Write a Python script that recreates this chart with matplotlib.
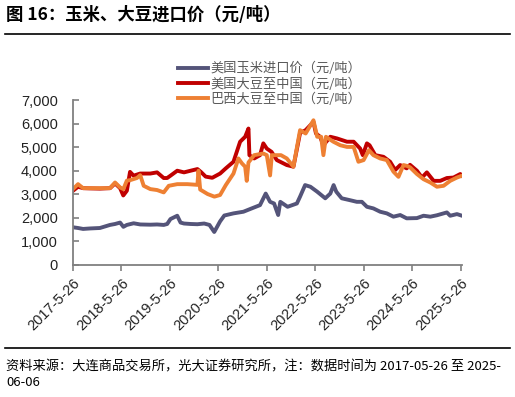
import matplotlib
matplotlib.use("Agg")
import matplotlib.pyplot as plt
import pandas as pd
from matplotlib.lines import Line2D

plt.rcParams['font.family'] = ['Noto Sans CJK SC', 'DejaVu Sans']

title = "图 16：玉米、大豆进口价（元/吨）"
source = "资料来源：大连商品交易所，光大证券研究所，注：数据时间为 2017-05-26 至 2025-\n06-06"
labels = ["美国玉米进口价（元/吨）", "美国大豆至中国（元/吨）", "巴西大豆至中国（元/吨）"]
colors = ["#545479", "#C00000", "#EE8033"]

tick_dates = ["2017-05-26", "2018-05-26", "2019-05-26", "2020-05-26", "2021-05-26",
              "2022-05-26", "2023-05-26", "2024-05-26", "2025-05-26"]
tick_labels = ["2017-5-26", "2018-5-26", "2019-5-26", "2020-5-26", "2021-5-26",
               "2022-5-26", "2023-5-26", "2024-5-26", "2025-5-26"]
y_ticks = [0, 1000, 2000, 3000, 4000, 5000, 6000, 7000]

corn_dates = ["2017-05-26", "2017-07-03", "2017-08-10", "2017-09-30", "2017-12-15", "2018-03-01",
              "2018-04-08", "2018-05-16", "2018-06-10", "2018-07-06", "2018-08-26", "2018-10-15",
              "2018-12-30", "2019-02-19", "2019-04-10", "2019-05-06", "2019-05-31", "2019-07-21",
              "2019-08-15", "2019-09-10", "2019-10-30", "2019-12-20", "2020-02-09", "2020-03-20",
              "2020-04-25", "2020-06-08", "2020-07-10", "2020-09-17", "2020-12-01", "2021-02-01",
              "2021-04-05", "2021-05-18", "2021-06-20", "2021-07-20", "2021-08-20", "2021-09-05",
              "2021-10-30", "2022-01-08", "2022-02-01", "2022-03-11", "2022-04-20", "2022-06-10",
              "2022-08-10", "2022-09-17", "2022-10-12", "2022-11-01", "2022-12-12", "2023-02-12",
              "2023-04-05", "2023-05-13", "2023-06-20", "2023-08-08", "2023-09-28", "2023-11-17",
              "2024-01-06", "2024-02-26", "2024-04-15", "2024-07-01", "2024-08-20", "2024-10-10",
              "2024-11-29", "2025-02-12", "2025-03-09", "2025-04-29", "2025-06-06"]
corn_vals = [1600, 1570, 1530, 1550, 1570, 1700,
             1740, 1800, 1620, 1700, 1770, 1720,
             1710, 1720, 1700, 1740, 1950, 2090,
             1800, 1760, 1740, 1730, 1760, 1700,
             1400, 1850, 2100, 2190, 2260, 2400,
             2540, 3030, 2680, 2610, 2120, 2680,
             2470, 2610, 2900, 3390, 3320, 3110,
             2830, 3030, 3390, 3110, 2830, 2750,
             2680, 2680, 2470, 2400, 2260, 2190,
             2050, 2120, 1980, 1990, 2090, 2050,
             2110, 2230, 2090, 2160, 2090]

us_dates = ["2017-05-26", "2017-07-03", "2017-08-10", "2017-09-30", "2017-12-15", "2018-03-01",
            "2018-04-08", "2018-05-16", "2018-06-09", "2018-07-06", "2018-07-30", "2018-08-26",
            "2018-10-15", "2018-12-30", "2019-02-19", "2019-04-10", "2019-05-06", "2019-05-31",
            "2019-07-21", "2019-09-10", "2019-10-30", "2019-12-20", "2020-01-15", "2020-02-20",
            "2020-04-10", "2020-06-08", "2020-07-21", "2020-09-17", "2020-11-06", "2020-12-14",
            "2021-01-08", "2021-01-15", "2021-02-20", "2021-04-05", "2021-04-30", "2021-05-26",
            "2021-07-01", "2021-08-10", "2021-10-24", "2021-12-13", "2022-02-01", "2022-03-15",
            "2022-05-13", "2022-06-01", "2022-07-02", "2022-07-27", "2022-09-17", "2022-11-06",
            "2023-01-21", "2023-03-12", "2023-04-30", "2023-05-20", "2023-06-20", "2023-07-10",
            "2023-08-22", "2023-10-23", "2023-12-12", "2024-01-19", "2024-02-26", "2024-04-15",
            "2024-05-10", "2024-07-01", "2024-08-08", "2024-09-14", "2024-11-04", "2024-12-24",
            "2025-02-12", "2025-04-03", "2025-05-24", "2025-06-06"]
us_vals = [3150, 3320, 3260, 3250, 3240, 3260,
           3460, 3260, 2950, 3150, 3950, 3790,
           3880, 3880, 3930, 3690, 3690, 3790,
           4000, 3930, 4000, 4070, 3950, 3750,
           3700, 3880, 4100, 4380, 5230, 5440,
           5790, 4660, 4520, 4660, 5160, 4940,
           4800, 4450, 4240, 4170, 5600, 5720,
           6070, 5580, 5440, 5080, 5440, 5370,
           5230, 5230, 4940, 4660, 5160, 5080,
           4660, 4590, 4380, 4030, 4240, 4100,
           4250, 4000, 3710, 3930, 3570, 3570,
           3690, 3710, 3860, 3790]

br_dates = ["2017-05-26", "2017-07-03", "2017-08-10", "2017-09-30", "2017-12-15", "2018-03-01",
            "2018-04-08", "2018-05-16", "2018-06-10", "2018-07-06", "2018-07-31", "2018-09-20",
            "2018-10-15", "2018-11-10", "2018-12-30", "2019-02-19", "2019-04-10", "2019-05-18",
            "2019-07-21", "2019-10-05", "2019-12-20", "2019-12-28", "2020-01-10", "2020-03-06",
            "2020-04-26", "2020-06-08", "2020-07-21", "2020-09-17", "2020-10-24", "2020-11-20",
            "2020-12-14", "2020-12-26", "2021-01-08", "2021-02-20", "2021-04-30", "2021-05-26",
            "2021-06-20", "2021-07-03", "2021-09-10", "2021-10-24", "2021-12-13", "2022-02-01",
            "2022-03-15", "2022-05-13", "2022-06-10", "2022-07-10", "2022-07-27", "2022-08-15",
            "2022-10-10", "2022-12-01", "2023-01-21", "2023-03-12", "2023-04-17", "2023-05-26",
            "2023-07-05", "2023-08-08", "2023-09-28", "2023-11-17", "2024-01-06", "2024-02-13",
            "2024-03-22", "2024-04-20", "2024-05-11", "2024-07-01", "2024-08-20", "2024-10-10",
            "2024-11-29", "2025-01-18", "2025-03-09", "2025-04-29", "2025-06-06"]
br_vals = [3220, 3430, 3260, 3260, 3260, 3260,
           3500, 3290, 3220, 3580, 3600, 3690,
           3810, 3360, 3220, 3180, 3080, 3360,
           3430, 3430, 3400, 4000, 3200, 3010,
           2900, 2970, 3390, 3880, 4520, 4310,
           4170, 3570, 4350, 4660, 4730, 4660,
           3800, 4660, 4660, 4520, 4170, 5720,
           5580, 6140, 5440, 5440, 4660, 5440,
           5230, 5080, 5010, 5010, 4380, 4450,
           4870, 4660, 4520, 4450, 3960, 3740,
           4240, 4200, 4140, 3860, 3640, 3500,
           3320, 3360, 3570, 3710, 3790]

W, H = 515, 397
fig = plt.figure(figsize=(W / 100, H / 100), dpi=100)

ax = fig.add_axes([73 / W, 1 - 265 / H, (462 - 73) / W, (265 - 100) / H])

series = [(corn_dates, corn_vals), (us_dates, us_vals), (br_dates, br_vals)]
handles = []
for (d, v), c, lab in zip(series, colors, labels):
    ln, = ax.plot(pd.to_datetime(d), v, color=c, lw=2.8, solid_joinstyle='round', label=lab)
    handles.append(ln)

ax.set_ylim(0, 7000)
ax.set_xlim(pd.Timestamp("2017-05-26"), pd.Timestamp("2025-06-06"))
ax.set_yticks(y_ticks)
ax.set_yticklabels([f"{v:,}" for v in y_ticks], fontfamily='Liberation Sans', fontsize=10.5, color='#222222')
ax.set_xticks(pd.to_datetime(tick_dates))
ax.set_xticklabels(tick_labels, rotation=45, ha='right', rotation_mode='anchor',
                   fontfamily='Liberation Sans', fontsize=10.5, color='#222222')

for s in ['top', 'right']:
    ax.spines[s].set_visible(False)
for s in ['left', 'bottom']:
    ax.spines[s].set_color('#808080')
    ax.spines[s].set_linewidth(1.3)
ax.tick_params(axis='y', direction='in', length=4, width=1.2, color='#808080', pad=11)
ax.tick_params(axis='x', direction='out', length=4, width=1.2, color='#808080', pad=4)

fig.legend(handles=handles, labels=labels, loc='upper left',
           bbox_to_anchor=(178 / W, 1 - 62 / H), frameon=False,
           fontsize=9.5, labelcolor='#595959', handlelength=2.3, handletextpad=0.15,
           labelspacing=0.15, borderpad=0, borderaxespad=0)

fig.text(6 / W, 1 - 15 / H, title, fontsize=12.5, fontweight='bold', va='center', ha='left')
fig.add_artist(Line2D([5 / W, 510 / W], [1 - 34 / H, 1 - 34 / H], color='black', lw=1.2))
fig.add_artist(Line2D([5 / W, 510 / W], [1 - 348 / H, 1 - 348 / H], color='black', lw=1.2))
fig.text(6 / W, 1 - 360 / H, source, fontsize=9.5, va='top', ha='left', linespacing=1.25)

fig.savefig("out.png", dpi=100)
